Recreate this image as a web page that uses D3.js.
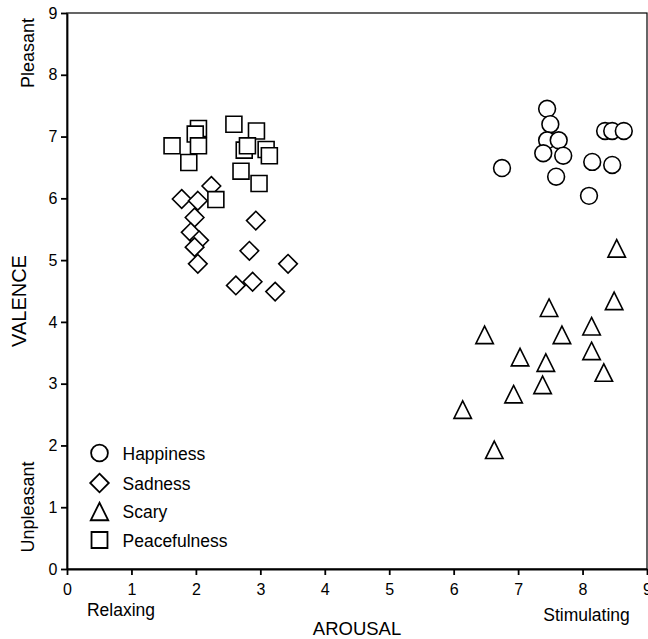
<!DOCTYPE html>
<html>
<head>
<meta charset="utf-8">
<script src="https://cdn.jsdelivr.net/npm/d3@7"></script>
<style>
  body { margin: 0; background: #fff; }
  svg { display: block; font-family: "Liberation Sans", Arial, sans-serif; }
</style>
</head>
<body>
<div id="grafico"></div>
<script>
// valores (arousal, valence)
const happiness = [
    [7.45, 7.45], [7.50, 7.20], [7.45, 6.94], [7.63, 6.94], [7.39, 6.73],
    [7.70, 6.69], [6.75, 6.49], [7.59, 6.35], [8.15, 6.59], [8.46, 6.54],
    [8.10, 6.04], [8.35, 7.09], [8.46, 7.09], [8.64, 7.09]
];
const sadness = [
    [2.24, 6.20], [1.78, 5.99], [2.03, 5.96], [1.98, 5.69], [1.92, 5.45],
    [2.05, 5.32], [1.98, 5.21], [2.03, 4.94], [2.93, 5.64], [2.83, 5.15],
    [3.43, 4.94], [2.62, 4.59], [2.88, 4.65], [3.23, 4.49]
];
const scary = [
    [8.53, 5.19], [8.49, 4.34], [7.48, 4.23], [8.14, 3.93], [6.48, 3.79],
    [7.68, 3.79], [8.14, 3.53], [7.03, 3.43], [7.43, 3.34], [8.33, 3.18],
    [7.38, 2.98], [6.93, 2.83], [6.14, 2.58], [6.63, 1.93]
];
const peacefulness = [
    [2.04, 7.13], [1.99, 7.04], [2.04, 6.85], [1.63, 6.85], [1.89, 6.58],
    [2.59, 7.20], [2.94, 7.09], [2.75, 6.78], [2.80, 6.85], [3.09, 6.79],
    [3.14, 6.69], [2.70, 6.44], [2.98, 6.24], [2.31, 5.98]
];
const categorias = ["Happiness", "Sadness", "Scary", "Peacefulness"];
const ticks = [0, 1, 2, 3, 4, 5, 6, 7, 8, 9];

const largura = 648;
const altura = 639;
const margem = { left: 67, right: 1, top: 13, bottom: 70 };

const svg = d3.select("#grafico")
    .append("svg")
    .attr("width", largura)
    .attr("height", altura);

const x = d3.scaleLinear().domain([0, 9]).range([margem.left, largura - margem.right]);
const y = d3.scaleLinear().domain([0, 9]).range([altura - margem.bottom, margem.top]);

// moldura do grafico
svg.append("rect")
    .attr("x", x(0))
    .attr("y", y(9))
    .attr("width", x(9) - x(0))
    .attr("height", y(0) - y(9))
    .attr("fill", "none")
    .attr("stroke", "#000")
    .attr("stroke-width", 1.2);

// eixos
const eixoX = svg.append("g")
    .attr("transform", `translate(0,${y(0)})`)
    .call(d3.axisBottom(x).tickValues(ticks).tickSize(6).tickPadding(9).tickSizeOuter(0));
const eixoY = svg.append("g")
    .attr("transform", `translate(${x(0)},0)`)
    .call(d3.axisLeft(y).tickValues(ticks).tickSize(6).tickPadding(3.5).tickSizeOuter(0));
[eixoX, eixoY].forEach(g => {
    g.selectAll("text").style("font-size", "16px").style("font-family", "Liberation Sans, Arial, sans-serif").attr("fill", "#000");
    g.select(".domain").attr("stroke-width", 1.8);
    g.selectAll(".tick line").attr("stroke-width", 1.8);
});

// triangulo com largura e altura iguais
const trianguloRef = {
    draw(context, size) {
        const w = Math.sqrt(size);
        context.moveTo(0, -w / 2);
        context.lineTo(w / 2, w / 2);
        context.lineTo(-w / 2, w / 2);
        context.closePath();
    }
};

// simbolos
const simbolos = {
    Happiness: d3.symbol().type(d3.symbolCircle).size(Math.PI * 8.4 * 8.4),
    Sadness: d3.symbol().type(d3.symbolDiamond2).size(2 * 10.5 * 10.5),
    Scary: d3.symbol().type(trianguloRef).size(17.5 * 17.5),
    Peacefulness: d3.symbol().type(d3.symbolSquare2).size(18 * 18)
};
const series = { Happiness: happiness, Sadness: sadness, Scary: scary, Peacefulness: peacefulness };

// desenha em ordem para sobreposicao parecida
["Sadness", "Peacefulness", "Happiness", "Scary"].forEach(cat => {
    svg.append("g")
        .selectAll("path")
        .data(series[cat])
        .enter()
        .append("path")
        .attr("d", simbolos[cat]())
        .attr("transform", d => `translate(${x(d[0])},${y(d[1])})`)
        .attr("fill", "#fff")
        .attr("stroke", "#000")
        .attr("stroke-width", 1.6);
});

// legenda
const legenda = svg.append("g");
const linhasLegenda = [453, 483, 511.5, 540];
categorias.forEach((cat, i) => {
    legenda.append("path")
        .attr("d", simbolos[cat]())
        .attr("transform", `translate(99.5,${linhasLegenda[i]})`)
        .attr("fill", "#fff")
        .attr("stroke", "#000")
        .attr("stroke-width", 1.8);
    legenda.append("text")
        .attr("x", 122.5)
        .attr("y", linhasLegenda[i] + 6.5)
        .style("font-size", "17.5px")
        .text(cat);
});

// titulos dos eixos
svg.append("text")
    .attr("transform", `translate(${x(4.5)},635)`)
    .attr("text-anchor", "middle")
    .style("font-size", "18.5px")
    .text("AROUSAL");
svg.append("text")
    .attr("transform", `translate(25.5,301) rotate(-90)`)
    .attr("text-anchor", "middle")
    .style("font-size", "20px")
    .text("VALENCE");

svg.append("text")
    .attr("x", 121).attr("y", 616)
    .attr("text-anchor", "middle")
    .style("font-size", "17.5px")
    .text("Relaxing");
svg.append("text")
    .attr("x", 586.5).attr("y", 621)
    .attr("text-anchor", "middle")
    .style("font-size", "17.5px")
    .text("Stimulating");
svg.append("text")
    .attr("transform", `translate(34,53) rotate(-90)`)
    .attr("text-anchor", "middle")
    .style("font-size", "18px")
    .text("Pleasant");
svg.append("text")
    .attr("transform", `translate(34,507) rotate(-90)`)
    .attr("text-anchor", "middle")
    .style("font-size", "18px")
    .text("Unpleasant");
</script>
</body>
</html>
